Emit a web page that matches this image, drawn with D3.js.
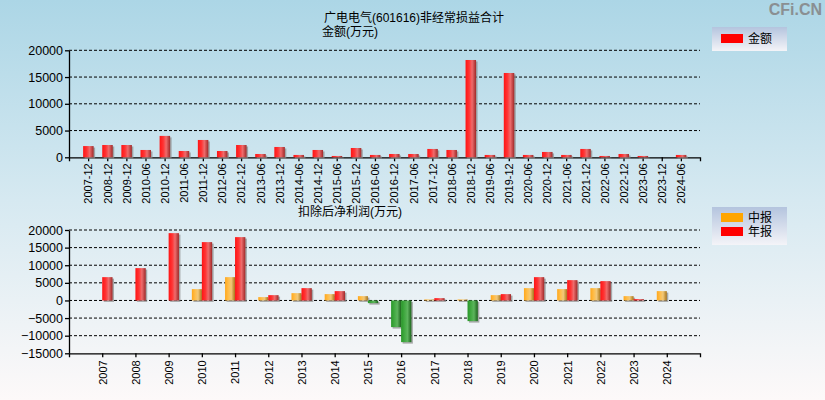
<!DOCTYPE html>
<html>
<head>
<meta charset="utf-8">
<script src="https://cdn.jsdelivr.net/npm/d3@7"></script>
<style>
  body { margin: 0; padding: 0; }
  svg text { font-family: "Liberation Sans", Arial, "Noto Sans CJK SC", sans-serif; }
</style>
</head>
<body>
<div id="chart"></div>
<script>
// data
const PERIODS = ["2007-12", "2008-12", "2009-12", "2010-06", "2010-12", "2011-06", "2011-12",
  "2012-06", "2012-12", "2013-06", "2013-12", "2014-06", "2014-12", "2015-06", "2015-12",
  "2016-06", "2016-12", "2017-06", "2017-12", "2018-06", "2018-12", "2019-06", "2019-12",
  "2020-06", "2020-12", "2021-06", "2021-12", "2022-06", "2022-12", "2023-06", "2023-12", "2024-06"];
const AMOUNTS = [2100, 2300, 2300, 1370, 4000, 1180, 3240,
  1180, 2300, 620, 1930, 440, 1370, 250, 1740,
  440, 620, 620, 1560, 1370, 18190, 440, 15760,
  440, 1000, 440, 1560, 250, 620, 250, 30, 440];
const TOP_TICKS = [0, 5000, 10000, 15000, 20000];

const YEARS = ["2007", "2008", "2009", "2010", "2011", "2012", "2013", "2014", "2015",
  "2016", "2017", "2018", "2019", "2020", "2021", "2022", "2023", "2024"];
const INTERIM = [null, null, null, 3220, 6620, 950, 2080, 1800, 1230,
  -7570, 280, 280, 1510, 3500, 3220, 3500, 1230, 2650];
const ANNUAL = [6620, 9180, 19110, 16560, 17980, 1510, 3500, 2650, -760,
  -11830, 660, -5870, 1800, 6620, 5770, 5490, 380, null];
const BOTTOM_TICKS = [-15000, -10000, -5000, 0, 5000, 10000, 15000, 20000];

const WIDTH = 825;
const HEIGHT = 400;
const PLOT_LEFT = 69;
const PLOT_RIGHT = 700;

const svg = d3.select("#chart")
  .append("svg")
    .attr("width", WIDTH)
    .attr("height", HEIGHT);

const defs = svg.append("defs");

function vGradient(id, stops) {
  const g = defs.append("linearGradient").attr("id", id)
    .attr("x1", 0).attr("y1", 0).attr("x2", 0).attr("y2", 1);
  stops.forEach(s => g.append("stop").attr("offset", s[0]).attr("stop-color", s[1]));
}
function hGradient(id, stops) {
  const g = defs.append("linearGradient").attr("id", id)
    .attr("x1", 0).attr("y1", 0).attr("x2", 1).attr("y2", 0);
  stops.forEach(s => g.append("stop").attr("offset", s[0]).attr("stop-color", s[1]));
}

vGradient("bg", [[0, "#acd6e6"], [0.5, "#d6e9f1"], [1, "#fdf9f9"]]);
vGradient("legendbg", [[0, "#b4c4de"], [1, "#f4f4f8"]]);
hGradient("red", [[0, "#ff1414"], [0.35, "#ff3434"], [0.62, "#ee6c6c"], [1, "#a02828"]]);
hGradient("orange", [[0, "#ffa81c"], [0.35, "#ffbe4c"], [0.62, "#f2c878"], [1, "#a87418"]]);
hGradient("green", [[0, "#289828"], [0.4, "#48ac48"], [0.62, "#5cb45c"], [1, "#1c641c"]]);

svg.append("rect")
  .attr("width", WIDTH).attr("height", HEIGHT)
  .attr("fill", "url(#bg)");

// watermark
svg.append("text")
  .attr("x", 822).attr("y", 15)
  .attr("text-anchor", "end")
  .attr("font-size", "16px")
  .attr("font-weight", "bold")
  .attr("fill", "#8a8f92")
  .text("CFi.CN");

// titles
svg.append("text").attr("x", 324).attr("y", 22).attr("font-size", "12px").text("广电电气(601616)非经常损益合计");
svg.append("text").attr("x", 322).attr("y", 36).attr("font-size", "12px").text("金额(万元)");
svg.append("text").attr("x", 298).attr("y", 216).attr("font-size", "12px").text("扣除后净利润(万元)");

function gridAndAxes(yScale, ticks, xScale, axisY, labelOffset) {
  const g = svg.append("g");
  ticks.forEach(t => {
    // skip the tick that sits on the x axis line
    if (Math.abs(yScale(t) - axisY) < 0.5) return;
    g.append("line")
      .attr("x1", PLOT_LEFT).attr("x2", PLOT_RIGHT)
      .attr("y1", yScale(t)).attr("y2", yScale(t))
      .attr("stroke", "#000").attr("stroke-width", 1)
      .attr("stroke-dasharray", "3,2");
  });

  const yAxis = svg.append("g")
    .attr("transform", "translate(" + PLOT_LEFT + ",0)")
    .call(d3.axisLeft(yScale).tickValues(ticks).tickFormat(d3.format("d"))
      .tickSize(4).tickSizeOuter(0).tickPadding(2));
  yAxis.selectAll("text").attr("font-size", "12.5px").attr("fill", "#000").attr("font-family", null);

  const xAxis = svg.append("g")
    .attr("transform", "translate(0," + axisY + ")")
    .call(d3.axisBottom(xScale).tickSize(4).tickSizeOuter(4));
  xAxis.selectAll("text")
    .attr("transform", "rotate(-90)")
    .attr("text-anchor", "end")
    .attr("x", -labelOffset)
    .attr("y", 0)
    .attr("dy", "0.35em")
    .attr("font-size", "11px")
    .attr("fill", "#000")
    .attr("font-family", null);
  [yAxis, xAxis].forEach(a => {
    a.selectAll("path,line").attr("stroke", "#000").attr("stroke-width", 1.3);
  });
}

function drawBar(x, w, y0, y1, fill) {
  const top = Math.min(y0, y1);
  const h = Math.abs(y1 - y0);
  if (h < 0.5) return;
  svg.append("rect")
    .attr("x", x + 1.5).attr("y", top + 1.5)
    .attr("width", w).attr("height", h)
    .attr("fill", "#8a8a8a").attr("opacity", 0.7);
  svg.append("rect")
    .attr("x", x).attr("y", top)
    .attr("width", w).attr("height", h)
    .attr("fill", fill);
}

// ---- top chart
const X1 = d3.scalePoint().domain(PERIODS).range([PLOT_LEFT, PLOT_RIGHT]).padding(1);
const Y1 = d3.scaleLinear().domain([0, 20000]).range([157.3, 50.3]);

gridAndAxes(Y1, TOP_TICKS, X1, Y1(0), 6);

PERIODS.forEach((p, i) => {
  drawBar(X1(p) - 5, 10.5, Y1(0), Y1(AMOUNTS[i]), "url(#red)");
});

// ---- bottom chart
const X2 = d3.scalePoint().domain(YEARS).range([PLOT_LEFT, PLOT_RIGHT]).padding(1);
const Y2 = d3.scaleLinear().domain([-15000, 20000]).range([353.3, 230]);

gridAndAxes(Y2, BOTTOM_TICKS, X2, Y2(-15000), 7);

YEARS.forEach((yr, i) => {
  const c = X2(yr);
  if (INTERIM[i] !== null) {
    drawBar(c - 10, 10, Y2(0), Y2(INTERIM[i]), INTERIM[i] < 0 ? "url(#green)" : "url(#orange)");
  }
  if (ANNUAL[i] !== null) {
    drawBar(c, 10.3, Y2(0), Y2(ANNUAL[i]), ANNUAL[i] < 0 ? "url(#green)" : "url(#red)");
  }
});

// ---- legends
const L1 = svg.append("g").attr("transform", "translate(712,27)");
L1.append("rect").attr("width", 75).attr("height", 24).attr("fill", "url(#legendbg)");
L1.append("rect").attr("x", 9).attr("y", 7).attr("width", 22).attr("height", 9).attr("fill", "#ff0000");
L1.append("text").attr("x", 36).attr("y", 16).attr("font-size", "12px").text("金额");

const L2 = svg.append("g").attr("transform", "translate(712,207)");
L2.append("rect").attr("width", 75).attr("height", 38).attr("fill", "url(#legendbg)");
L2.append("rect").attr("x", 9).attr("y", 6).attr("width", 22).attr("height", 9).attr("fill", "#ffa500");
L2.append("text").attr("x", 36).attr("y", 15).attr("font-size", "12px").text("中报");
L2.append("rect").attr("x", 9).attr("y", 20).attr("width", 22).attr("height", 9).attr("fill", "#ff0000");
L2.append("text").attr("x", 36).attr("y", 29).attr("font-size", "12px").text("年报");
</script>
</body>
</html>
